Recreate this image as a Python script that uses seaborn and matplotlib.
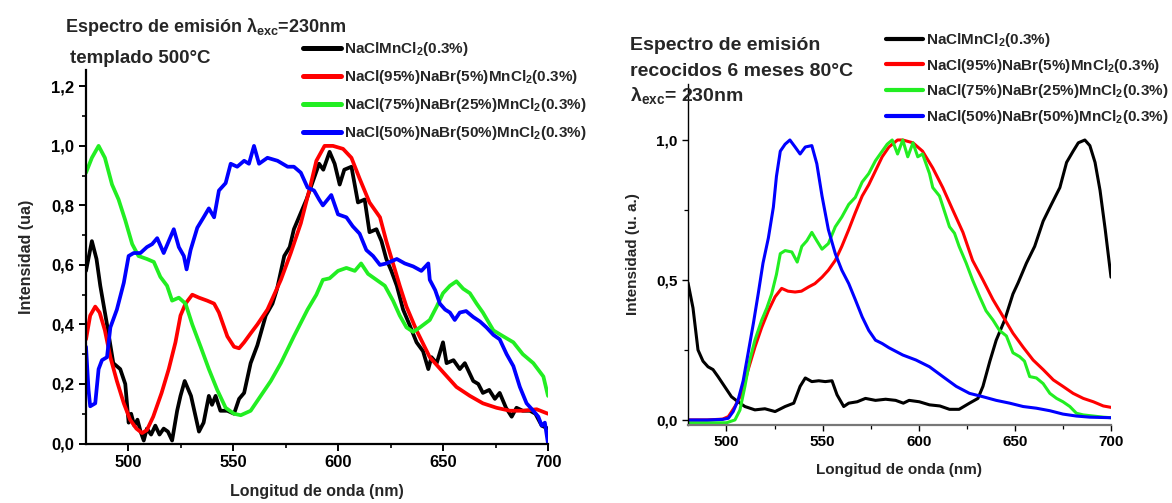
import numpy as np
import pandas as pd
import matplotlib
matplotlib.use("Agg")
import matplotlib.pyplot as plt
from matplotlib.ticker import MultipleLocator, FuncFormatter
import seaborn as sns

# ---------------- data: left panel (templado 500 °C) ----------------
L_black_nm = [480, 482.8, 485, 486.8, 490, 493, 496.3, 498.7, 500.3, 501.5, 503, 504.5, 506, 507.5, 509, 511, 513, 515,
              517, 519, 521, 523.4, 525, 527, 530, 533.8, 536, 538.5, 540, 541.7, 544, 547.3, 550.5, 552.9, 555.3,
              558.4, 561.6, 565.6, 568.8, 571, 574.4, 577, 579, 582, 585, 587, 589, 591, 593, 596, 598.4, 600.8, 603,
              606.4, 609.5, 612.7, 615, 618.3, 620.7, 623, 625.4, 628, 631, 634, 637.4, 640.5, 643, 644.5, 647, 650,
              651.7, 655, 658, 660.4, 664.4, 666.8, 669, 672, 674.7, 677, 680, 682.7, 685, 688, 691.4, 694, 697, 700]
L_black_v = [0.58, 0.68, 0.62, 0.53, 0.40, 0.27, 0.25, 0.20, 0.07, 0.10, 0.06, 0.08, 0.04, 0.01, 0.05, 0.03, 0.06, 0.03,
             0.05, 0.04, 0.01, 0.11, 0.16, 0.21, 0.16, 0.04, 0.07, 0.16, 0.13, 0.16, 0.11, 0.11, 0.10, 0.15, 0.17,
             0.27, 0.33, 0.43, 0.47, 0.52, 0.63, 0.66, 0.72, 0.77, 0.82, 0.86, 0.90, 0.94, 0.92, 0.98, 0.94, 0.87, 0.92,
             0.93, 0.81, 0.82, 0.71, 0.72, 0.68, 0.62, 0.58, 0.53, 0.45, 0.40, 0.34, 0.31, 0.25, 0.29, 0.27, 0.34,
             0.27, 0.28, 0.25, 0.27, 0.21, 0.20, 0.17, 0.18, 0.15, 0.17, 0.12, 0.09, 0.12, 0.11, 0.11, 0.10, 0.06, 0.05]

L_red_nm = [480, 482, 484.4, 486.5, 489, 491.6, 494.7, 498, 501, 504, 506.7, 509, 512, 516, 519.4, 522.6, 525, 527.4,
            530.6, 533.8, 537.7, 541, 543.3, 547.3, 550.5, 552.9, 555.3, 558.4, 561.6, 566.4, 572.8, 577.5, 582.3,
            587, 589.7, 593.6, 597.6, 602.4, 606.4, 610.3, 615, 620, 623, 626, 629.4, 632.6, 637.4, 643.7, 650,
            656.4, 662.8, 669, 675.5, 681.9, 688, 694.6, 700]
L_red_v = [0.35, 0.43, 0.46, 0.44, 0.38, 0.29, 0.21, 0.135, 0.08, 0.05, 0.035, 0.045, 0.09, 0.17, 0.25, 0.34, 0.43, 0.47,
           0.50, 0.49, 0.48, 0.47, 0.44, 0.36, 0.325, 0.32, 0.34, 0.37, 0.40, 0.45, 0.55, 0.64, 0.74,
           0.87, 0.95, 1.0, 1.0, 0.99, 0.96, 0.89, 0.81, 0.76, 0.68, 0.61, 0.53, 0.46, 0.38, 0.29, 0.24,
           0.19, 0.16, 0.135, 0.12, 0.11, 0.11, 0.115, 0.10]

L_green_nm = [480, 482.8, 486, 489, 492.4, 495.5, 498.7, 502, 505, 509, 512.3, 515.4, 518.6, 521, 524.2, 527.4, 530.6,
              534.6, 538.5, 542.5, 546.5, 550.5, 553.7, 558.4, 563.2, 568, 572.8, 579, 585.5, 589.7, 592.8, 596, 600,
              604, 608, 611, 614.3, 618.3, 622.3, 626.2, 629.4, 632.6, 635.8, 639, 643.7, 647, 650, 653.3, 656.4,
              659.6, 662.8, 666, 669, 674, 678.7, 683.5, 688, 693, 697.8, 700]
L_green_v = [0.91, 0.96, 1.0, 0.96, 0.87, 0.82, 0.75, 0.67, 0.63, 0.62, 0.61, 0.56, 0.53, 0.48, 0.49, 0.47, 0.40,
             0.325, 0.25, 0.18, 0.12, 0.10, 0.095, 0.11, 0.16, 0.21, 0.27, 0.36, 0.45, 0.50, 0.55, 0.555, 0.58,
             0.59, 0.58, 0.605, 0.57, 0.55, 0.53, 0.48, 0.43, 0.39, 0.375, 0.39, 0.415, 0.46, 0.505, 0.53, 0.545,
             0.52, 0.505, 0.47, 0.44, 0.38, 0.36, 0.34, 0.30, 0.27, 0.225, 0.16]

L_blue_nm = [480, 481.2, 482, 484.4, 486, 487.6, 490, 491.6, 494.7, 498, 500.3, 502.7, 505.9, 509, 511.5, 513.9, 517,
             519.4, 521.8, 524.2, 526.6, 527.9, 529.8, 533, 536, 538.5, 541, 543.3, 546.5, 548.9, 552, 555.3, 557.6,
             560, 562.4, 566.4, 571.2, 576, 579, 582.3, 585.5, 588.6, 591, 592.8, 596.8, 600, 604, 607, 610.3,
             613.5, 616.7, 620, 623, 628, 631.8, 635.8, 639.7, 643, 643.7, 646.3, 648.5, 651, 653.3, 655.6, 658,
             661, 664.4, 667.6, 670.7, 674, 677, 680.3, 683.5, 686.6, 689.8, 693, 695.4, 697, 698.5, 700]
L_blue_v = [0.325, 0.18, 0.125, 0.135, 0.25, 0.28, 0.29, 0.39, 0.45, 0.54, 0.63, 0.64, 0.64, 0.66, 0.67, 0.69, 0.64,
            0.68, 0.72, 0.66, 0.63, 0.585, 0.65, 0.725, 0.76, 0.79, 0.76, 0.85, 0.875, 0.94, 0.93, 0.95, 0.94,
            1.0, 0.94, 0.96, 0.95, 0.93, 0.93, 0.91, 0.86, 0.85, 0.82, 0.80, 0.835, 0.77, 0.76, 0.73, 0.705,
            0.65, 0.63, 0.60, 0.605, 0.62, 0.605, 0.595, 0.58, 0.605, 0.55, 0.515, 0.47, 0.45, 0.44, 0.415, 0.44,
            0.445, 0.425, 0.41, 0.39, 0.365, 0.35, 0.30, 0.26, 0.19, 0.135, 0.11, 0.09, 0.06, 0.07, 0.0]

# ---------------- data: right panel (recocidos 6 meses 80 °C) ----------------
R_black_nm = [480, 482.6, 485.2, 487.8, 490.4, 493, 495.6, 499, 502.6, 506, 509.6, 514.8, 520, 525.3, 530.5, 535,
              538.3, 541, 544.4, 548, 551.4, 554.9, 557.5, 561, 563.6, 568, 572.3, 577.5, 582.8, 588, 592, 595,
              600.3, 605.6, 611, 616, 621, 626.4, 630.8, 633.4, 637, 640.3, 644.7, 649, 651.7, 656, 660.3, 664.7,
              669, 673.4, 676.9, 680.3, 683, 686.4, 689, 691.7, 694.3, 697, 700]
R_black_v = [0.49, 0.40, 0.25, 0.21, 0.19, 0.18, 0.155, 0.12, 0.083, 0.065, 0.048, 0.036, 0.04, 0.03, 0.048, 0.06,
             0.12, 0.15, 0.137, 0.14, 0.137, 0.14, 0.09, 0.048, 0.06, 0.065, 0.077, 0.07, 0.074, 0.07, 0.06, 0.07,
             0.065, 0.054, 0.05, 0.038, 0.038, 0.06, 0.077, 0.12, 0.21, 0.285, 0.357, 0.45, 0.49, 0.56, 0.62, 0.71,
             0.77, 0.83, 0.92, 0.96, 0.99, 1.0, 0.98, 0.92, 0.82, 0.68, 0.51]

R_red_nm = [480, 490, 498, 501, 504.4, 508, 511.3, 514.8, 518.3, 521.8, 525.3, 528.7, 532, 535.7, 539, 542.7, 546,
            549.7, 553, 556.6, 560, 563.6, 567, 570.6, 574, 577.5, 581, 584.5, 589, 591.7, 597, 602, 607.3, 612.5,
            617.7, 623, 628, 633.4, 638.6, 643.8, 649, 654.3, 659.5, 664.7, 670, 675, 680.3, 685.6, 690.8, 696, 700]
R_red_v = [0.0, 0.0, 0.003, 0.012, 0.048, 0.095, 0.18, 0.26, 0.33, 0.39, 0.44, 0.47, 0.46, 0.457, 0.46, 0.475, 0.487,
           0.51, 0.535, 0.57, 0.62, 0.68, 0.74, 0.80, 0.84, 0.89, 0.94, 0.975, 1.0, 1.0, 0.99, 0.96, 0.90, 0.83,
           0.75, 0.67, 0.57, 0.50, 0.43, 0.37, 0.31, 0.26, 0.214, 0.18, 0.143, 0.12, 0.095, 0.077, 0.065, 0.05, 0.045]

R_green_nm = [480, 490, 500, 504.4, 507, 509.6, 512, 514.8, 518.3, 521, 523.5, 526, 528, 530.5, 534, 536.8, 539.2,
              541.8, 544.4, 547, 549.7, 553, 556.6, 560, 563.6, 567, 570.6, 574, 577.5, 581, 583.6, 586.2, 589,
              591.7, 594.3, 597, 599.5, 602, 605.6, 607.3, 610.8, 614.3, 616, 618.6, 621, 624.7, 628, 631.7, 635,
              638.6, 642, 645.6, 649, 652.5, 655, 657.7, 661.2, 664.7, 668.2, 671.7, 675, 678.6, 682, 685.6, 690.8,
              696, 700]
R_green_v = [-0.01, -0.01, -0.01, 0.0, 0.035, 0.12, 0.21, 0.285, 0.356, 0.40, 0.45, 0.52, 0.594, 0.605, 0.60, 0.564,
             0.62, 0.64, 0.67, 0.64, 0.61, 0.63, 0.69, 0.725, 0.77, 0.795, 0.85, 0.88, 0.926, 0.96, 0.985, 1.0, 0.95,
             1.0, 0.94, 0.99, 0.94, 0.95, 0.88, 0.83, 0.80, 0.726, 0.69, 0.667, 0.62, 0.56, 0.50, 0.44, 0.39,
             0.357, 0.32, 0.30, 0.24, 0.226, 0.21, 0.155, 0.15, 0.13, 0.095, 0.077, 0.065, 0.048, 0.024, 0.018, 0.014,
             0.01, 0.008]

R_blue_nm = [480, 490, 498, 501, 503.5, 506, 508.7, 511.3, 514, 516.5, 519, 521.8, 524.4, 526, 528, 530.5, 533,
             535.7, 538.3, 541, 544.4, 547, 549.7, 553, 556.6, 560, 563.6, 567, 570.6, 574, 577.5, 581, 584.5,
             591.7, 598.6, 605.6, 612.5, 619.5, 626.4, 633.4, 640.3, 647.3, 654.3, 661.2, 668.2, 675, 682, 689, 700]
R_blue_v = [0.0, 0.0, 0.002, 0.006, 0.03, 0.07, 0.14, 0.24, 0.345, 0.45, 0.56, 0.65, 0.76, 0.87, 0.96, 0.985, 1.0,
            0.975, 0.95, 0.975, 0.98, 0.915, 0.80, 0.68, 0.594, 0.535, 0.487, 0.43, 0.368, 0.32, 0.285, 0.273, 0.258,
            0.232, 0.214, 0.19, 0.155, 0.12, 0.095, 0.083, 0.07, 0.06, 0.048, 0.042, 0.033, 0.021, 0.014, 0.01, 0.008]

labels = ["NaClMnCl$_2$(0.3%)",
          "NaCl(95%)NaBr(5%)MnCl$_2$(0.3%)",
          "NaCl(75%)NaBr(25%)MnCl$_2$(0.3%)",
          "NaCl(50%)NaBr(50%)MnCl$_2$(0.3%)"]
colors = ["#000000", "#ff0000", "#22ee22", "#0000ff"]

# ---------------- style ----------------
sns.set_theme(style="ticks")
plt.rcParams["font.family"] = ["Liberation Sans", "DejaVu Sans"]
plt.rcParams["font.weight"] = "bold"
plt.rcParams["mathtext.fontset"] = "custom"
plt.rcParams["mathtext.rm"] = "Liberation Sans:bold"
plt.rcParams["mathtext.it"] = "Liberation Sans:bold"
plt.rcParams["mathtext.bf"] = "Liberation Sans:bold"

W, H = 1172, 503
fig = plt.figure(figsize=(W / 100, H / 100), dpi=100)

def fx(px):
    return px / W

def fy(py):
    return 1 - py / H

comma = FuncFormatter(lambda v, p: f"{v:.1f}".replace(".", ","))

# left axes
axL = fig.add_axes([fx(86), fy(443.5), fx(548 - 86), (443.5 - 70) / H])
left_series = [(L_black_nm, L_black_v), (L_red_nm, L_red_v), (L_green_nm, L_green_v), (L_blue_nm, L_blue_v)]
for (x, y), c, lab in zip(left_series, colors, labels):
    sns.lineplot(x=x, y=y, ax=axL, color=c, lw=2.7, label=lab, sort=False, estimator=None)
axL.set_xlim(480, 700)
axL.set_ylim(0, 1.255)
axL.xaxis.set_major_locator(MultipleLocator(50))
axL.xaxis.set_minor_locator(MultipleLocator(25))
axL.yaxis.set_major_locator(MultipleLocator(0.2))
axL.yaxis.set_minor_locator(MultipleLocator(0.1))
axL.yaxis.set_major_formatter(comma)
axL.set_xlabel("Longitud de onda (nm)", fontsize=11.5, fontweight="bold", labelpad=10)
axL.set_ylabel("Intensidad (ua)", fontsize=11.5, fontweight="bold", labelpad=12)
for s in ["top", "right"]:
    axL.spines[s].set_visible(False)
for s in ["left", "bottom"]:
    axL.spines[s].set_linewidth(1.6)
    axL.spines[s].set_color("black")
axL.tick_params(axis="both", which="major", direction="out", length=5, width=1.4, labelsize=12, colors="black")
axL.tick_params(axis="both", which="minor", direction="out", length=3, width=1.2, colors="black")
for t in axL.get_xticklabels() + axL.get_yticklabels():
    t.set_fontweight("bold")
axL.legend(loc="upper left", bbox_to_anchor=(fx(303), fy(40)), bbox_transform=fig.transFigure,
           frameon=False, handlelength=2.5, handletextpad=0.2, labelspacing=0.66,
           borderpad=0, borderaxespad=0, prop={"weight": "bold", "size": 11})
for l in axL.get_legend().get_lines():
    l.set_linewidth(3.6)

fig.text(fx(65), fy(32), "Espectro de emisión λ$_{exc}$=230nm", fontsize=13, fontweight="bold",
         ha="left", va="baseline")
fig.text(fx(70), fy(63), "templado 500°C", fontsize=13.5, fontweight="bold", ha="left", va="baseline")

# right axes
axR = fig.add_axes([fx(688), fy(425), fx(1111 - 688), (425 - 84) / H])
right_series = [(R_black_nm, R_black_v), (R_red_nm, R_red_v), (R_green_nm, R_green_v), (R_blue_nm, R_blue_v)]
for (x, y), c, lab in zip(right_series, colors, labels):
    sns.lineplot(x=x, y=y, ax=axR, color=c, lw=2.2, label=lab, sort=False, estimator=None)
axR.set_xlim(480, 700)
axR.set_ylim(-0.018, 1.2)
axR.xaxis.set_major_locator(MultipleLocator(50))
axR.xaxis.set_minor_locator(MultipleLocator(25))
axR.yaxis.set_major_locator(MultipleLocator(0.5))
axR.yaxis.set_minor_locator(MultipleLocator(0.25))
axR.yaxis.set_major_formatter(comma)
axR.set_xlabel("Longitud de onda (nm)", fontsize=11, fontweight="bold", labelpad=10)
axR.set_ylabel("Intensidad (u. a.)", fontsize=11, fontweight="bold", labelpad=12)
for s in ["top", "right"]:
    axR.spines[s].set_visible(False)
axR.spines["left"].set_linewidth(1.0)
axR.spines["left"].set_color("black")
axR.spines["bottom"].set_linewidth(1.6)
axR.spines["bottom"].set_color("#777777")
axR.tick_params(axis="both", which="major", direction="out", length=4, width=1.0, labelsize=11, colors="black")
axR.tick_params(axis="both", which="minor", direction="out", length=3, width=0.9, colors="black")
for t in axR.get_xticklabels() + axR.get_yticklabels():
    t.set_fontweight("bold")
axR.legend(loc="upper left", bbox_to_anchor=(fx(886), fy(31)), bbox_transform=fig.transFigure,
           frameon=False, handlelength=2.4, handletextpad=0.2, labelspacing=0.5,
           borderpad=0, borderaxespad=0, prop={"weight": "bold", "size": 11})
for l in axR.get_legend().get_lines():
    l.set_linewidth(3.0)

fig.text(fx(630), fy(45), "Espectro de emisión", fontsize=14, fontweight="bold", ha="left", va="center")
fig.text(fx(630), fy(71), "recocidos 6 meses 80°C", fontsize=14, fontweight="bold", ha="left", va="center")
fig.text(fx(630), fy(96), "λ$_{exc}$= 230nm", fontsize=14, fontweight="bold", ha="left", va="center")

fig.savefig("out.png", dpi=100)
